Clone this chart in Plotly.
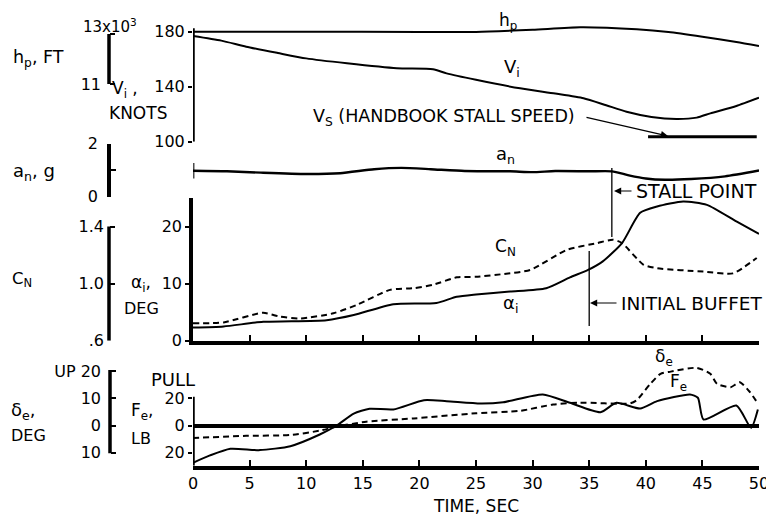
import plotly.graph_objects as go

# ---------------- data ----------------
# Panel 1: pressure altitude (thousands of ft) and indicated airspeed (knots)
t_hp = [0, 10, 20, 25, 30, 34.2, 39.2, 42, 45, 48, 50]
hp_kft = [13.09, 13.09, 13.08, 13.08, 13.17, 13.27, 13.19, 13.08, 12.89, 12.68, 12.52]

t_vi = [0, 2.5, 4.7, 7.5, 10, 13.6, 18, 21.2, 22.4, 25, 28.9, 32, 34.5, 36.5, 38.3,
        40.5, 42.7, 44.5, 45.7, 48, 50]
vi_kt = [176.9, 173.5, 169.1, 164.5, 160.6, 157.0, 153.4, 152.7, 149.7, 145.0, 138.8,
         135.0, 131.6, 126.5, 121.8, 118.0, 116.5, 117.5, 120.6, 126.0, 132.0]

t_vs = [40.2, 49.8]
vs_kt = [103.6, 103.6]

# Panel 2: normal acceleration (g)
t_an = [0, 3, 6, 10, 13, 16, 18.4, 21, 24, 28, 30, 32, 35, 37, 38.5, 40, 41.7, 44, 47, 50]
an_g = [0.97, 0.95, 0.90, 0.85, 0.88, 1.03, 1.08, 1.03, 0.96, 0.95, 0.92, 0.96, 0.95,
        0.95, 0.80, 0.68, 0.63, 0.66, 0.76, 0.98]

# Panel 3: angle of attack (deg) and normal-force coefficient
t_alpha = [0, 2.7, 6.2, 11.8, 14.2, 17.7, 21.5, 23.3, 25, 28, 31.2, 33.3, 34.9, 36.2,
           37.9, 39.5, 41, 43.3, 45.4, 48, 50]
alpha_deg = [2.3, 2.5, 3.3, 3.6, 4.5, 6.4, 6.6, 7.7, 8.1, 8.6, 9.2, 11.1, 12.4, 13.9,
             17.1, 22.4, 23.5, 24.4, 23.8, 20.9, 18.7]

t_cn = [0, 2.7, 6.2, 7.7, 9.5, 12.4, 14.5, 17.4, 19.5, 21.2, 23.3, 25, 27.5, 29.8, 33,
        35.7, 37.1, 37.9, 39.8, 41, 45.1, 47.7, 49.8]
cn = [0.722, 0.728, 0.796, 0.768, 0.756, 0.792, 0.852, 0.956, 0.968, 0.992, 1.044, 1.048,
      1.068, 1.096, 1.236, 1.284, 1.308, 1.284, 1.132, 1.108, 1.084, 1.072, 1.180]

# Panel 4: elevator deflection (deg) and elevator force (lb)
t_fe = [0, 1.5, 3.3, 5.9, 8.6, 11.2, 12.7, 14.2, 15.6, 17.7, 20.4, 22.4, 25.4, 27.4,
        30.9, 33.3, 36, 37.4, 39.5, 41, 43.9, 44.6, 45.1, 48, 49.3, 49.9]
fe_lb = [-27.4, -22, -17.1, -18.1, -15.2, -6.6, 0, 8.8, 12.3, 11.8, 18.6, 17.9, 16.2,
         17.1, 22.8, 16.7, 9.8, 16.7, 12.5, 17.9, 22.8, 20.4, 4.4, 14.7, -1.7, 11.8]

t_de = [0, 4.7, 8.6, 11.2, 12.7, 15.3, 19.5, 25, 28.9, 31.8, 34.2, 38.6, 39.2, 40.4,
        41.3, 42.2, 44.5, 45.7, 46.3, 47.5, 48.3, 49.2, 49.8]
de_deg = [-4.6, -3.8, -3.5, -1.9, -0.4, 1.4, 2.6, 4.5, 5.4, 7.7, 8.4, 8.1, 9.3, 15.3,
          19.0, 19.8, 21.2, 19.0, 15.3, 14.1, 15.9, 12.3, 8.7]

time_ticks = list(range(0, 51, 5))
stall_point_t = 37.0
initial_buffet_t = 35.0

# ---------------- layout helpers ----------------
# The page places the figure 8 px from the top-left corner, so the figure is
# 8 px smaller and every screen position below is converted with that offset.
OFF = 8
W, H = 774 - OFF, 525 - OFF
def px(p):
    return (p - OFF) / W
def py(p):
    return 1 - (p - OFF) / H

FONT = "DejaVu Sans"
LW = 2
SPINE = 3.5
X0, X1 = 193, 759
LEFT_AX = 109

fig = go.Figure()

line = dict(color="black", width=LW, shape="spline", smoothing=0.6)
dash = dict(color="black", width=LW, dash="6px,4px", shape="spline", smoothing=0.6)

fig.add_trace(go.Scatter(x=t_vi, y=vi_kt, mode="lines", line=line, xaxis="x", yaxis="y"))
fig.add_trace(go.Scatter(x=t_vs, y=vs_kt, mode="lines", line=dict(color="black", width=3),
                         xaxis="x", yaxis="y"))
fig.add_trace(go.Scatter(x=t_hp, y=hp_kft, mode="lines", line=line, xaxis="x", yaxis="y2"))
fig.add_trace(go.Scatter(x=t_an, y=an_g, mode="lines+markers",
                         line=dict(color="black", width=2.4, shape="spline", smoothing=0.6),
                         marker=dict(symbol="line-ns-open", size=[11] + [0] * (len(t_an) - 1),
                                     line=dict(color="black", width=3)),
                         xaxis="x", yaxis="y3"))
fig.add_trace(go.Scatter(x=t_alpha, y=alpha_deg, mode="lines", line=line, xaxis="x2", yaxis="y4"))
fig.add_trace(go.Scatter(x=t_cn, y=cn, mode="lines", line=dash, xaxis="x2", yaxis="y5"))
fig.add_trace(go.Scatter(x=t_fe, y=fe_lb, mode="lines", line=line, xaxis="x", yaxis="y6"))
fig.add_trace(go.Scatter(x=t_de, y=de_deg, mode="lines", line=dash, xaxis="x", yaxis="y7"))

tickfont = dict(family=FONT, size=16, color="black")

# Vi: 100 at 141.7 px, 1.375 px/knot, domain top 18 px
vi_rng = [100, 100 + (141.7 - 18) / 1.375]
hp_rng = [13 - (141.7 - 34) / 25, 13 + (34 - 18) / 25]
an_dom = [py(196.5), py(143.5)]
al_dom = [py(340.7), py(198)]
fe_rng = [-(465.7 - 425.5) / 1.36, (425.5 - 355) / 1.36]
de_rng = [fe_rng[0] / 2, fe_rng[1] / 2]

common = dict(showgrid=False, zeroline=False, tickfont=tickfont, tickcolor="black",
              linecolor="black", tickwidth=1.5, automargin=False)

fig.update_layout(
    width=W, height=H, autosize=False,
    margin=dict(l=0, r=0, t=0, b=0, pad=0, autoexpand=False),
    paper_bgcolor="white", plot_bgcolor="rgba(0,0,0,0)",
    showlegend=False,
    font=dict(family=FONT, size=16, color="black"),
    xaxis=dict(domain=[px(X0), px(X1)], range=[0, 50], anchor="y6",
               tickvals=time_ticks, ticks="inside", ticklen=6, showline=True,
               linewidth=SPINE, **common),
    xaxis2=dict(domain=[px(X0), px(X1)], range=[0, 50], anchor="y4", matches="x",
                tickvals=time_ticks, ticks="inside", ticklen=6, showline=True,
                showticklabels=False, linewidth=SPINE, **common),
    yaxis=dict(domain=[py(141.7), py(18)], range=vi_rng, anchor="x",
               tickvals=[100, 140, 180], ticks="outside", ticklen=4, showline=False,
               **common),
    yaxis2=dict(domain=[py(141.7), py(18)], range=hp_rng, overlaying="y", anchor="free",
                position=px(LEFT_AX), side="left", tickvals=[11, 13], ticktext=["11", ""],
                ticks="inside", ticklen=5, showline=False, ticklabelstandoff=8, **common),
    yaxis3=dict(domain=an_dom, range=[0, 2], anchor="free", position=px(LEFT_AX),
                side="left", tickvals=[0, 1, 2], ticktext=["0", "", "2"], ticks="inside",
                ticklen=5, showline=True, linewidth=SPINE, ticklabelstandoff=6, **common),
    yaxis4=dict(domain=al_dom, range=[0, 25], anchor="x2", tickvals=[0, 10, 20],
                ticks="outside", ticklen=4, showline=True, linewidth=SPINE, **common),
    yaxis5=dict(domain=al_dom, range=[0.6, 1.6], overlaying="y4", anchor="free",
                position=px(LEFT_AX), side="left", tickvals=[0.6, 1.0, 1.4],
                ticktext=[".6", "1.0", "1.4"], ticks="inside", ticklen=5, showline=False,
                ticklabelstandoff=5, **common),
    yaxis6=dict(domain=[py(465.7), py(355)], range=fe_rng, anchor="x",
                tickvals=[-20, 0, 20], ticktext=["20", "0", "20"], ticks="outside",
                ticklen=4, showline=False,
                **{k: v for k, v in common.items() if k != "zeroline"},
                zeroline=True, zerolinewidth=SPINE, zerolinecolor="black"),
    yaxis7=dict(domain=[py(465.7), py(355)], range=de_rng, overlaying="y6", anchor="free",
                position=px(110), side="left", tickvals=[-10, 0, 10, 20],
                ticktext=["10", "0", "10", "UP 20"], ticks="inside", ticklen=5,
                showline=False, ticklabelstandoff=9, **common),
)

# ---------------- axis spines drawn over part of each scale ----------------
spine = dict(type="line", line=dict(color="black", width=SPINE), layer="above")
fig.add_shape(xref="x", yref="y", x0=0, x1=0, y0=100, y1=182.5, **spine)
fig.add_shape(xref="paper", yref="y2", x0=px(LEFT_AX), x1=px(LEFT_AX), y0=11, y1=13, **spine)
fig.add_shape(xref="paper", yref="y5", x0=px(LEFT_AX), x1=px(LEFT_AX), y0=0.6, y1=1.4, **spine)
fig.add_shape(xref="x", yref="y6", x0=0, x1=0, y0=fe_rng[0], y1=21.2, **spine)
fig.add_shape(xref="paper", yref="y7", x0=px(110), x1=px(110), y0=-10.2, y1=20.4, **spine)

# event markers
thin = dict(type="line", line=dict(color="black", width=1.3))
fig.add_shape(xref="x", yref="paper", x0=stall_point_t, x1=stall_point_t,
              y0=py(237), y1=py(168), **thin)
fig.add_shape(xref="x", yref="paper", x0=initial_buffet_t, x1=initial_buffet_t,
              y0=py(326), y1=py(251), **thin)

# ---------------- text ----------------
def label(text, x, y, size=16, xanchor="center", yanchor="middle"):
    fig.add_annotation(text=text, xref="paper", yref="paper", x=px(x), y=py(y),
                       xanchor=xanchor, yanchor=yanchor, showarrow=False,
                       font=dict(family=FONT, size=size, color="black"))

def arrow(t_head, y_head, dx, dy):
    fig.add_annotation(text="", xref="x", yref="paper", x=t_head, y=py(y_head),
                       axref="pixel", ayref="pixel", ax=dx, ay=dy, showarrow=True,
                       arrowhead=2, arrowsize=1.2, arrowwidth=1.2, arrowcolor="black",
                       standoff=0)

label("13x10<sup>3</sup>", 110, 26, 15)
label("h<sub>p</sub>, FT", 11, 59, 17.5, "left")
label("V<sub>i</sub> ,", 110, 89, 17, "left")
label("KNOTS", 138, 113, 17)
label("a<sub>n</sub>, g", 11, 172, 18, "left")
label("C<sub>N</sub>", 10, 279, 16.5, "left")
label("α<sub>i</sub>,", 141, 283, 17)
label("DEG", 141, 308, 16)
label("δ<sub>e</sub>,", 9, 411, 18, "left")
label("DEG", 9, 435, 16, "left")
label("F<sub>e</sub>,", 129, 411, 17, "left")
label("LB", 129, 438, 16, "left")
label("PULL", 149, 379, 18, "left")

label("h<sub>p</sub>", 508, 8, 17, yanchor="top")
label("V<sub>i</sub>", 512, 68, 18)
label("a<sub>n</sub>", 505, 155, 18)
label("C<sub>N</sub>", 505, 248, 17)
label("α<sub>i</sub>", 510, 304, 18)
label("δ<sub>e</sub>", 664, 357, 17)
label("F<sub>e</sub>", 678, 382, 17)
label("V<sub>S</sub> (HANDBOOK STALL SPEED)", 444, 118, 17.5)
label("STALL POINT", 634, 191, 19, "left")
label("INITIAL BUFFET", 619, 303, 18.5, "left")
label("TIME, SEC", 476, 506, 17)

arrow((668 - X0) / 11.32, 136, -83, -19)
arrow((614 - X0) / 11.32, 191, 19, 0)
arrow((590 - X0) / 11.32, 303, 28, 0)

fig.write_html("out.html")
